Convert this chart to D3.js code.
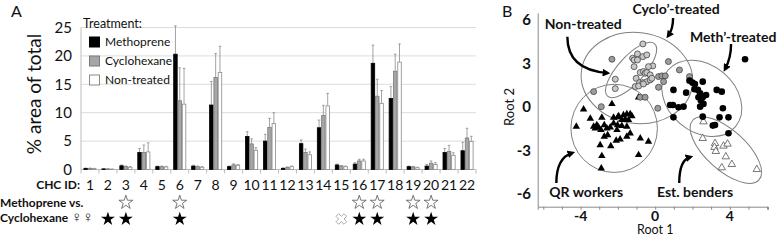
<!DOCTYPE html>
<html>
<head>
<meta charset="utf-8">
<script src="https://cdn.jsdelivr.net/npm/d3@7"></script>
<style>
  html, body { margin: 0; padding: 0; background: #fff; }
  svg { display: block; font-family: Lato, "Open Sans", sans-serif; }
</style>
</head>
<body>
<div id="chart"></div>
<script>
// ---- Panel A data: % area of total per CHC peak ----
var chcIds = d3.range(1, 23);
var seriesNames = ['Methoprene', 'Cyclohexane', 'Non-treated'];
var methoprene = [0.2, 0.1, 0.65, 3.0, 0.5, 20.3, 0.6, 11.35, 0.5, 5.8, 5.0, 0.2, 4.55, 7.35, 0.8, 0.95, 18.7, 12.5, 0.5, 0.6, 3.0, 3.3];
var methopreneErr = [0.25, 0.15, 0.8, 3.7, 0.6, 25.3, 0.75, 15.5, 0.6, 6.65, 6.2, 0.3, 5.2, 8.7, 0.95, 1.2, 21.9, 14.6, 0.6, 0.9, 3.7, 4.8];
var cyclohexane = [0.2, 0.1, 0.5, 3.0, 0.5, 12.1, 0.5, 16.2, 0.8, 4.5, 7.4, 0.35, 3.0, 9.5, 0.6, 1.5, 12.9, 17.3, 0.45, 1.1, 3.2, 5.55];
var cyclohexaneErr = [0.25, 0.12, 0.6, 4.3, 0.6, 17.9, 0.6, 20.4, 1.0, 5.4, 9.0, 0.45, 3.6, 11.3, 0.7, 1.8, 15.9, 20.3, 0.55, 1.5, 4.25, 7.25];
var nonTreated = [0.15, 0.05, 0.4, 3.1, 0.45, 11.5, 0.4, 17.1, 0.75, 3.4, 8.1, 0.5, 2.6, 11.2, 0.5, 1.5, 11.65, 18.9, 0.3, 0.9, 2.5, 4.95];
var nonTreatedErr = [0.2, 0.08, 0.5, 4.7, 0.55, 17.8, 0.5, 21.7, 0.9, 3.85, 10.0, 0.6, 3.1, 13.4, 0.6, 1.8, 13.9, 22.1, 0.4, 1.2, 2.95, 5.85];
var yTicksA = [0, 5, 10, 15, 20, 25];
// significance marks (by CHC id)
var sigMethVsCyclo = [3, 6, 16, 17, 19, 20];   // open stars
var sigFemales = [2, 3, 6, 16, 17, 19, 20];    // filled stars
var sigCross = [15];

// ---- Panel B data: discriminant scores (Root 1, Root 2) ----
var nonTreatedPts = [[-2.14, 1.92], [-2.14, 1.27], [-0.66, 4.36], [-1.21, 3.37], [-0.95, 3.67], [-1.13, 3.25], [-0.66, 3.48], [-0.45, 3.6],
  [-0.13, 2.84], [-1.13, 2.79], [-0.8, 2.38], [-0.63, 2.45], [-0.54, 2.33], [-0.45, 2.38], [-0.27, 2.22], [-1.02, 1.98], [-0.84, 1.68],
  [-0.66, 1.68], [-0.45, 1.75], [-0.27, 1.87], [-0.18, 1.98], [-1.07, 1.41], [-0.89, 1.45], [-0.63, 1.59], [-0.36, 2.79], [-0.95, 3.25]];
var cycloPts = [[-2.32, 3.3], [-3.3, 1.06], [-2.89, 0.02], [0.71, 3.14], [0.18, 2.1], [0.36, 2.15], [0.54, 2.15], [0.45, 1.75],
  [-0.8, 0.67], [-0.54, 0.67], [0.18, 1.36], [0.14, -0.09], [1.3, 2.56], [1.84, 2.1]];
var methPts = [[4.82, 3.3], [1.84, 1.82], [2.0, 1.68], [2.13, 1.59], [2.55, 1.75], [2.11, 1.22], [2.29, 1.18], [2.41, 0.95], [2.32, 0.67],
  [2.55, 0.67], [2.45, 0.44], [2.59, 0.21], [2.73, 0.83], [3.3, 1.18], [3.57, 1.06], [0.98, 1.18], [1.66, 0.99], [0.8, 0.14], [0.95, 0.14],
  [1.25, -0.02], [1.52, 0.02], [0.98, -0.72], [2.55, -0.67], [3.09, -1.29], [3.21, -1.25], [3.45, -0.72], [3.93, -0.72], [3.63, -0.09],
  [3.93, -1.82], [2.41, 0.02]];
var qrPts = [[-3.84, -0.16], [-2.32, 0.21], [-2.0, -0.7], [-3.48, -0.8], [-2.86, -0.73], [-2.23, -0.73], [-1.96, -0.63], [-1.7, -0.56],
  [-1.52, -0.49], [-1.34, -0.49], [-1.25, -0.63], [-1.61, -0.86], [-1.79, -0.9], [-1.43, -0.9], [-4.23, -1.36], [-3.21, -1.48],
  [-3.04, -1.41], [-2.91, -1.59], [-2.73, -1.25], [-2.59, -1.48], [-2.41, -1.41], [-2.23, -1.13], [-2.02, -1.25], [-1.79, -1.31],
  [-2.55, -1.94], [-2.73, -2.05], [-2.09, -2.33], [-1.88, -2.24], [-1.52, -2.05], [-1.34, -1.82], [-0.8, -2.17], [-0.36, -2.4],
  [-2.95, -2.63], [-2.38, -2.7], [-2.86, -3.39], [-0.89, -3.32], [-2.89, -4.25], [-3.3, -1.36], [-3.13, -1.25], [-1.52, -1.36],
  [-2.05, -1.59], [-0.89, 0.67]];
var benderPts = [[2.59, -1.02], [2.55, -2.17], [3.21, -2.52], [3.18, -2.79], [3.25, -3.07], [3.66, -2.7], [3.88, -2.56], [3.79, -3.44],
  [3.57, -4.2], [4.11, -3.97], [5.45, -4.32]];
// group ellipses: centre, half-axes (root units), tilt in degrees
var groupEllipses = [
  { name: 'Cyclo', cx: -0.98, cy: 2.0, rx: 3.0, ry: 3.14, angle: 8 },
  { name: 'Non', cx: -1.29, cy: 2.56, rx: 1.89, ry: 0.92, angle: -48 },
  { name: 'Meth', cx: 2.5, cy: 0.6, rx: 2.36, ry: 2.31, angle: 40 },
  { name: 'QR', cx: -2.2, cy: -1.48, rx: 2.32, ry: 3.05, angle: 0 },
  { name: 'Est', cx: 3.79, cy: -2.98, rx: 2.39, ry: 1.38, angle: 42 }
];
var groupLabels = [
  { text: 'Non-treated', x: -3.86, y: 5.75 },
  { text: 'Cyclo\u2019-treated', x: 1.12, y: 6.79 },
  { text: 'Meth\u2019-treated', x: 4.18, y: 4.85 },
  { text: 'QR workers', x: -3.7, y: -5.89 },
  { text: 'Est. benders', x: 2.14, y: -5.89 }
];
// arrows: start, control, end (root units)
var groupArrows = [
  [[-4.71, 4.85], [-4.71, 2.56], [-2.57, 2.35]],
  [[0.96, 6.16], [0.96, 5.4], [0.7, 4.92]],
  [[4.07, 4.36], [4.07, 3.4], [3.75, 2.63]],
  [[-5.3, -5.26], [-5.3, -3.53], [-4.45, -3.18]],
  [[1.29, -5.26], [1.29, -3.67], [1.88, -3.46]]
];
var xTicksB = [-4, 0, 4];
var yTicksB = [6, 3, 0, -3, -6];

var width = 778, height = 241;
var svg = d3.select('#chart').append('svg').attr('width', width).attr('height', height);
var ink = '#111';

/* ── Panel A ─────────────────────────────────────────── */
var gA = svg.append('g');
var x = d3.scaleBand().domain(chcIds).range([81, 476]).paddingInner(0.28).paddingOuter(0.14);
var xs = d3.scaleBand().domain(seriesNames).range([0, x.bandwidth()]);
var y = d3.scaleLinear().domain([0, 25]).range([169.5, 27.5]);

gA.selectAll('line.grid').data(yTicksA.slice(1)).enter().append('line')
  .attr('x1', 81).attr('x2', 476).attr('y1', function (d) { return y(d); }).attr('y2', function (d) { return y(d); })
  .attr('stroke', '#dcdcdc').attr('stroke-width', 1);
gA.append('line').attr('x1', 81).attr('x2', 81).attr('y1', y(25)).attr('y2', y(0)).attr('stroke', '#bdbdbd');
gA.append('line').attr('x1', 81).attr('x2', 476).attr('y1', y(0)).attr('y2', y(0)).attr('stroke', '#bdbdbd');
// tick marks between categories
var step = x.step();
gA.selectAll('line.xt').data(d3.range(0, 23)).enter().append('line')
  .attr('x1', function (i) { return 81 + i * step; }).attr('x2', function (i) { return 81 + i * step; })
  .attr('y1', y(0)).attr('y2', y(0) + 4).attr('stroke', '#bdbdbd');

gA.selectAll('text.yt').data(yTicksA).enter().append('text')
  .attr('x', 72).attr('y', function (d) { return y(d); }).attr('dy', '0.35em')
  .attr('text-anchor', 'end').attr('font-size', 15).attr('fill', ink).text(function (d) { return d; });

var series = [
  { name: 'Methoprene', vals: methoprene, err: methopreneErr, fill: '#000', stroke: '#000' },
  { name: 'Cyclohexane', vals: cyclohexane, err: cyclohexaneErr, fill: '#a6a6a6', stroke: '#7a7a7a' },
  { name: 'Non-treated', vals: nonTreated, err: nonTreatedErr, fill: '#fff', stroke: '#8a8a8a' }
];
series.forEach(function (s) {
  var g = gA.append('g');
  chcIds.forEach(function (id, i) {
    var bx = x(id) + xs(s.name);
    var bw = xs.bandwidth();
    var cx = bx + bw / 2;
    g.append('line').attr('x1', cx).attr('x2', cx).attr('y1', y(s.vals[i])).attr('y2', y(s.err[i]))
      .attr('stroke', '#8c8c8c').attr('stroke-width', 0.8);
    g.append('line').attr('x1', cx - 1.3).attr('x2', cx + 1.3).attr('y1', y(s.err[i])).attr('y2', y(s.err[i]))
      .attr('stroke', '#8c8c8c').attr('stroke-width', 0.8);
    g.append('rect').attr('x', bx + 0.4).attr('width', bw - 0.8)
      .attr('y', y(s.vals[i])).attr('height', y(0) - y(s.vals[i]))
      .attr('fill', s.fill).attr('stroke', s.stroke).attr('stroke-width', 0.8);
  });
});

// legend
gA.append('text').attr('x', 83).attr('y', 24).attr('dy', '0.35em').attr('font-size', 12.5)
  .attr('fill', ink).text('Treatment:');
series.forEach(function (s, i) {
  var ly = 42 + i * 19;
  gA.append('rect').attr('x', 89.5).attr('y', ly - 5).attr('width', 10).attr('height', 10)
    .attr('fill', s.fill).attr('stroke', s.stroke);
  gA.append('text').attr('x', 105).attr('y', ly).attr('dy', '0.35em').attr('font-size', 12)
    .attr('fill', ink).text(s.name);
});

// category labels
gA.append('text').attr('x', 80).attr('y', 185).attr('dy', '0.35em').attr('text-anchor', 'end')
  .attr('font-size', 12).attr('font-weight', 'bold').attr('fill', ink).text('CHC ID:');
gA.selectAll('text.xl').data(chcIds).enter().append('text')
  .attr('x', function (d) { return x(d) + x.bandwidth() / 2; }).attr('y', 185).attr('dy', '0.35em')
  .attr('text-anchor', 'middle').attr('font-size', 14).attr('fill', ink).text(function (d) { return d; });

gA.append('text').attr('x', 0).attr('y', 203).attr('dy', '0.35em').attr('font-size', 12).attr('font-weight', 'bold')
  .attr('fill', ink).text('Methoprene vs.');
var femText = gA.append('text').attr('x', 0).attr('y', 218).attr('dy', '0.35em').attr('font-size', 12).attr('font-weight', 'bold')
  .attr('fill', ink);
femText.append('tspan').text('Cyclohexane ');
femText.append('tspan').attr('font-size', 15).attr('font-weight', 'normal').text('\u2640\u2640');

var star = d3.symbol().type(d3.symbolStar).size(60);
gA.selectAll('path.os').data(sigMethVsCyclo).enter().append('path').attr('d', star)
  .attr('transform', function (d) { return 'translate(' + (x(d) + x.bandwidth() / 2) + ',202.5)'; })
  .attr('fill', '#fff').attr('stroke', '#555').attr('stroke-width', 0.8);
gA.selectAll('path.fs').data(sigFemales).enter().append('path').attr('d', star)
  .attr('transform', function (d) { return 'translate(' + (x(d) + x.bandwidth() / 2) + ',219)'; })
  .attr('fill', '#000');
gA.selectAll('path.cx').data(sigCross).enter().append('path').attr('d', d3.symbol().type(d3.symbolCross).size(70))
  .attr('transform', function (d) { return 'translate(' + (x(d) + x.bandwidth() / 2) + ',219) rotate(45)'; })
  .attr('fill', '#fff').attr('stroke', '#999').attr('stroke-width', 0.8);

gA.append('text').attr('transform', 'translate(41,94) rotate(-90)').attr('text-anchor', 'middle')
  .attr('font-size', 19).attr('fill', ink).text('% area of total');
gA.append('text').attr('x', 11).attr('y', 17).attr('font-size', 16).attr('fill', ink).text('A');

/* ── Panel B ─────────────────────────────────────────── */
var gB = svg.append('g');
var xb = d3.scaleLinear().domain([-6.3, 6.05]).range([537.7, 768]);
var yb = d3.scaleLinear().domain([-6.9, 6.5]).range([206.7, 13]);

gB.append('g').attr('transform', 'translate(0,' + yb(-6.9) + ')')
  .call(d3.axisBottom(xb).tickValues(d3.range(-6, 7)).tickSize(3).tickFormat(''))
  .call(function (a) { a.selectAll('line, path').attr('stroke', '#8a8a8a'); });
gB.append('g').attr('transform', 'translate(' + xb(-6.3) + ',0)')
  .call(d3.axisLeft(yb).tickValues(d3.range(-6, 7)).tickSize(0).tickFormat(''))
  .call(function (a) { a.selectAll('line, path').attr('stroke', '#8a8a8a'); });

gB.selectAll('text.xb').data(xTicksB).enter().append('text')
  .attr('x', function (d) { return xb(d); }).attr('y', 216).attr('dy', '0.35em').attr('text-anchor', 'middle')
  .attr('font-size', 14).attr('font-weight', 'bold').attr('fill', ink).text(function (d) { return d; });
gB.selectAll('text.yb').data(yTicksB).enter().append('text')
  .attr('x', 531).attr('y', function (d) { return yb(d); }).attr('dy', '0.35em').attr('text-anchor', 'end')
  .attr('font-size', 15).attr('font-weight', 'bold').attr('fill', ink).text(function (d) { return d; });
gB.append('text').attr('x', xb(0)).attr('y', 230).attr('dy', '0.35em').attr('text-anchor', 'middle')
  .attr('font-size', 12.5).attr('fill', ink).text('Root 1');
gB.append('text').attr('transform', 'translate(514,' + yb(0) + ') rotate(-90)').attr('text-anchor', 'middle')
  .attr('font-size', 13).attr('fill', ink).text('Root 2');
gB.append('text').attr('x', 502).attr('y', 17).attr('font-size', 16).attr('fill', ink).text('B');

gB.selectAll('ellipse').data(groupEllipses).enter().append('ellipse')
  .attr('cx', function (d) { return xb(d.cx); }).attr('cy', function (d) { return yb(d.cy); })
  .attr('rx', function (d) { return xb(d.cx + d.rx) - xb(d.cx); })
  .attr('ry', function (d) { return yb(d.cy) - yb(d.cy + d.ry); })
  .attr('transform', function (d) { return 'rotate(' + d.angle + ',' + xb(d.cx) + ',' + yb(d.cy) + ')'; })
  .attr('fill', 'none').attr('stroke', '#7f7f7f').attr('stroke-width', 1);

function pos(d) { return 'translate(' + xb(d[0]) + ',' + yb(d[1]) + ')'; }
var tri = d3.symbol().type(d3.symbolTriangle).size(24);
gB.selectAll('path.qr').data(qrPts).enter().append('path').attr('d', tri).attr('transform', pos).attr('fill', '#000');
gB.selectAll('path.bd').data(benderPts).enter().append('path').attr('d', tri).attr('transform', pos)
  .attr('fill', '#fff').attr('stroke', '#555').attr('stroke-width', 0.8);
gB.selectAll('circle.cy').data(cycloPts).enter().append('circle').attr('r', 3)
  .attr('cx', function (d) { return xb(d[0]); }).attr('cy', function (d) { return yb(d[1]); })
  .attr('fill', '#9c9c9c').attr('stroke', '#444').attr('stroke-width', 0.8);
gB.selectAll('circle.nt').data(nonTreatedPts).enter().append('circle').attr('r', 3)
  .attr('cx', function (d) { return xb(d[0]); }).attr('cy', function (d) { return yb(d[1]); })
  .attr('fill', '#c8c8c8').attr('stroke', '#444').attr('stroke-width', 0.8);
gB.selectAll('circle.mt').data(methPts).enter().append('circle').attr('r', 3.3)
  .attr('cx', function (d) { return xb(d[0]); }).attr('cy', function (d) { return yb(d[1]); })
  .attr('fill', '#000');

// arrows
svg.append('defs').append('marker').attr('id', 'ah').attr('viewBox', '0 0 10 10').attr('refX', 6).attr('refY', 5)
  .attr('markerWidth', 3.2).attr('markerHeight', 3.2).attr('orient', 'auto')
  .append('path').attr('d', 'M0,0L10,5L0,10z').attr('fill', '#000');
gB.selectAll('path.ar').data(groupArrows).enter().append('path')
  .attr('d', function (d) {
    var p = d3.path();
    p.moveTo(xb(d[0][0]), yb(d[0][1]));
    p.quadraticCurveTo(xb(d[1][0]), yb(d[1][1]), xb(d[2][0]), yb(d[2][1]));
    return p.toString();
  })
  .attr('fill', 'none').attr('stroke', '#000').attr('stroke-width', 2.4).attr('marker-end', 'url(#ah)');

gB.selectAll('text.gl').data(groupLabels).enter().append('text')
  .attr('x', function (d) { return xb(d.x); }).attr('y', function (d) { return yb(d.y); }).attr('dy', '0.35em')
  .attr('text-anchor', 'middle').attr('font-size', 14).attr('font-weight', 'bold').attr('fill', ink)
  .text(function (d) { return d.text; });
</script>
</body>
</html>
